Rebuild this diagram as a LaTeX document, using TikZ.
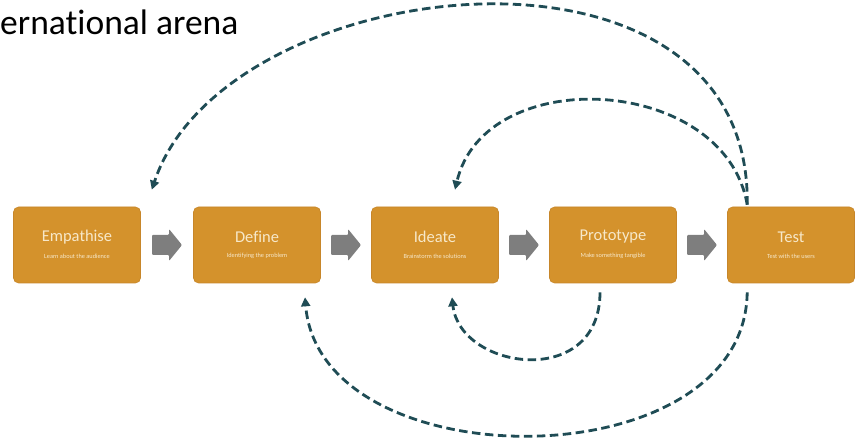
\documentclass[tikz,border=0pt]{standalone}
\usepackage{fontspec}
\setmainfont[Ligatures=NoCommon]{Carlito}
\usetikzlibrary{arrows.meta,calc}

\definecolor{stagefill}{HTML}{D4922C}
\definecolor{stageedge}{HTML}{C7862A}
\definecolor{stagetext}{HTML}{F7E8C9}
\definecolor{flowgray}{HTML}{7E7E7E}
\definecolor{loopteal}{HTML}{1F4C55}

\tikzset{
  stagebox/.style={rectangle, rounded corners=5pt, fill=stagefill, draw=stageedge,
    line width=0.6pt, minimum width=127pt, minimum height=76pt, inner sep=0pt,
    align=center, text=stagetext},
  stagetitle/.style={font=\fontsize{16.5}{18}\selectfont},
  stagesub/.style={font=\fontsize{6.3}{7}\selectfont},
  loop/.style={draw=loopteal, line width=2.8pt, dash pattern=on 8.5pt off 4.5pt,
    -{Triangle[length=9pt,width=9pt]}},
  blockarrow/.pic={
    \fill[flowgray, rounded corners=1pt]
      (-15,-10) -- (2,-10) -- (2,-16) -- (15,0) -- (2,16) -- (2,10) -- (-15,10) -- cycle;
  }
}

\begin{document}
\begin{tikzpicture}[x=1pt,y=-1pt]
  \useasboundingbox (0,0) rectangle (857,443);

  % heading fragment
  \node[anchor=base west, inner sep=0pt, font=\fontsize{35.5}{40}\selectfont] (head) at (0,35) {ernational arena};

  % the five stages
  \node[stagebox] (emp)  at (77,245)  {};
  \node[stagebox] (def)  at (257,245) {};
  \node[stagebox] (ide)  at (435,245) {};
  \node[stagebox] (pro)  at (613,245) {};
  \node[stagebox] (tst)  at (791,245) {};

  \foreach \n/\t/\s in {emp/Empathise/Learn about the audience,
                        def/Define/Identifying the problem,
                        ide/Ideate/Brainstorm the solutions,
                        pro/Prototype/Make something tangible,
                        tst/Test/Test with the users}{
    \node[stagetitle, text=stagetext, inner sep=0pt] (\n-t) at ($(\n)+(0,-8)$) {\t};
    \node[stagesub, text=stagetext, inner sep=0pt] (\n-s) at ($(\n)+(0,11)$) {\s};
  }

  % forward arrows between stages, centred in each gap
  \path ($(emp.east)!0.5!(def.west)$) pic {blockarrow};
  \path ($(def.east)!0.5!(ide.west)$) pic {blockarrow};
  \path ($(ide.east)!0.5!(pro.west)$) pic {blockarrow};
  \path ($(pro.east)!0.5!(tst.west)$) pic {blockarrow};

  % loop-back ends
  \coordinate (tTop)  at ($(tst.north west)+(20,-2)$);
  \coordinate (tBot)  at ($(tst.south west)+(20,9)$);
  \coordinate (pBot)  at ($(pro.south)+(-13,9)$);
  \coordinate (eIn)   at ($(emp.north east)+(11,-17)$);
  \coordinate (iTop)  at ($(ide.north)+(20,-17)$);
  \coordinate (iBot)  at ($(ide.south)+(17,14)$);
  \coordinate (dBot)  at ($(def.south)+(48,14)$);

  % iteration loops
  \draw[loop] (tTop) .. controls (752,-88) and (225,-30) .. (eIn);
  \draw[loop] (tTop) .. controls (725,75) and (485,62) .. (iTop);
  \draw[loop] (pBot) .. controls (600,390) and (460,370) .. (iBot);
  \draw[loop] (tBot) .. controls (745,482) and (320,482) .. (dBot);
\end{tikzpicture}
\end{document}
